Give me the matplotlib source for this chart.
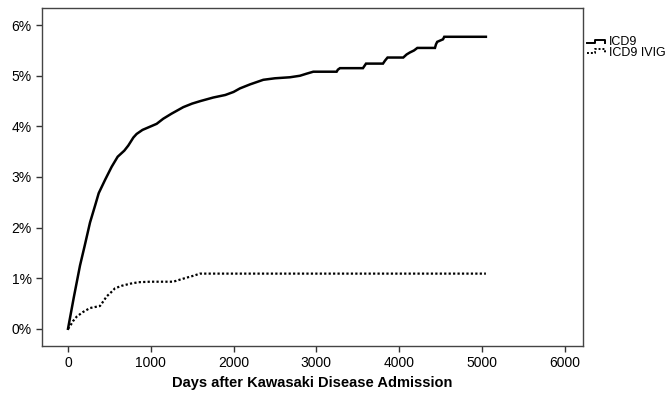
import matplotlib
matplotlib.use("Agg")
import matplotlib.pyplot as plt
from matplotlib.lines import Line2D
from matplotlib.ticker import FuncFormatter

plt.rcParams['font.family'] = ['Liberation Sans', 'DejaVu Sans']

# cumulative incidence (%) by days after admission
# (repeated x values = visible steps in the late part of the curve)
icd9_days = [0, 70, 145, 200, 266, 330, 371, 450, 527, 600, 680, 728, 790, 829,
             900, 1000, 1071, 1150, 1250, 1393, 1500, 1600, 1755, 1900, 2000, 2077,
             2200, 2359, 2500, 2681, 2802, 2880, 2963,
             3245, 3260, 3285, 3563, 3600, 3805, 3830, 3860, 4050, 4090, 4130, 4180,
             4220, 4433, 4445, 4460, 4530, 4545, 5048]
icd9_pct = [0, 0.62, 1.25, 1.63, 2.1, 2.45, 2.68, 2.95, 3.2, 3.4, 3.52, 3.62, 3.78, 3.85,
            3.93, 4.0, 4.05, 4.15, 4.25, 4.38, 4.45, 4.5, 4.57, 4.62, 4.68, 4.75,
            4.83, 4.92, 4.95, 4.97, 5.0, 5.04, 5.08,
            5.08, 5.12, 5.15, 5.15, 5.24, 5.24, 5.3, 5.36, 5.36, 5.42, 5.46, 5.5,
            5.55, 5.55, 5.62, 5.67, 5.72, 5.77, 5.77]

ivig_days = [0, 24, 60, 105, 180, 266, 386, 430, 467, 520, 568, 650, 749, 850, 990,
             1272, 1350, 1433, 1520, 1594, 5048]
ivig_pct = [0, 0.05, 0.15, 0.24, 0.33, 0.41, 0.45, 0.55, 0.64, 0.72, 0.80, 0.85, 0.89,
            0.92, 0.93, 0.93, 0.97, 1.01, 1.05, 1.09, 1.09]

x_ticks = [0, 1000, 2000, 3000, 4000, 5000, 6000]
y_ticks = [0, 1, 2, 3, 4, 5, 6]
series_names = ['ICD9', 'ICD9 IVIG']

fig = plt.figure(figsize=(6.7, 3.97), dpi=100)
ax = fig.add_axes([0.0627, 0.1285, 0.8073, 0.8515])

ax.plot(icd9_days, icd9_pct, color='black', lw=1.8, solid_joinstyle='miter')
ax.plot(ivig_days, ivig_pct, color='black', lw=1.6, linestyle=(0, (1.0, 1.0)))

ax.set_xlim(-314, 6220)
ax.set_ylim(-0.34, 6.34)
ax.set_xticks(x_ticks)
ax.set_yticks(y_ticks)
ax.yaxis.set_major_formatter(FuncFormatter(lambda v, p: '%d%%' % v))
ax.tick_params(direction='out', length=4, width=1, labelsize=10, color='#333333')
for s in ax.spines.values():
    s.set_color('#444444')
    s.set_linewidth(1.0)

ax.set_xlabel('Days after Kawasaki Disease Admission', fontsize=10.5, fontweight='bold',
              labelpad=4)

# legend drawn by hand (step symbols like the original)
W, H = 670.0, 397.0
def fx(px):
    return px / W
def fy(py):
    return 1 - py / H

sym_x = [587, 595, 595, 605, 605]
sym1_y = [42.7, 42.7, 40, 40, 43.3]
sym2_y = [52.7, 52.7, 49, 49, 53]
fig.add_artist(Line2D([fx(v) for v in sym_x], [fy(v) for v in sym1_y],
                      color='black', lw=1.4, transform=fig.transFigure))
fig.add_artist(Line2D([fx(v) for v in sym_x], [fy(v) for v in sym2_y],
                      color='black', lw=1.4, linestyle=(0, (1, 1)),
                      transform=fig.transFigure))
fig.text(fx(609), fy(42), series_names[0], fontsize=9, va='center', ha='left')
fig.text(fx(609), fy(52.5), series_names[1], fontsize=9, va='center', ha='left')

fig.savefig('out.png', dpi=100, facecolor='white')
